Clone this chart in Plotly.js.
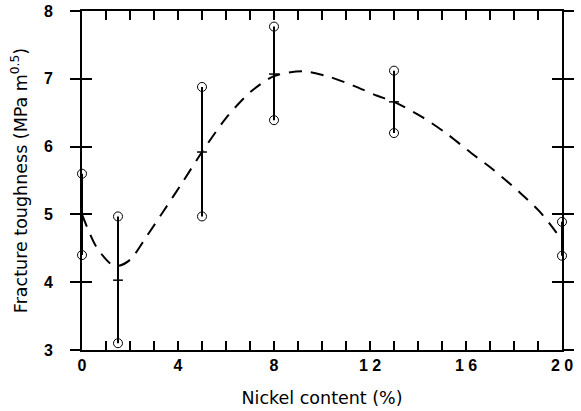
<!DOCTYPE html>
<html><head><meta charset="utf-8">
<script src="https://cdn.plot.ly/plotly-3.0.1.min.js"></script>
<style>html,body{margin:0;padding:0;background:#fff;}#chart{width:581px;height:411px;}</style>
</head><body><div id="chart"></div>
<script>
// Measured data (nickel content %, fracture toughness MPa m^0.5)
var nickel = [0, 1.5, 5, 8, 13, 20];
var toughLow = [4.4, 3.1, 4.97, 6.39, 6.2, 4.39];
var toughHigh = [5.6, 4.97, 6.88, 7.77, 7.12, 4.89];
var toughMean = [5.0, 4.03, 5.92, 7.07, 6.66, 4.64];
// Dashed trend curve
var curveX = [0, 0.6, 1.2, 1.5, 2.0, 2.7, 3.4, 4.2, 5.0, 6.0, 7.0, 8.0, 9.2, 10.3, 11.3, 12.3, 13.0, 14.2, 15.2, 16.2, 17.1, 18.25, 19.1, 20];
var curveY = [5.0, 4.52, 4.27, 4.24, 4.33, 4.68, 5.05, 5.48, 5.92, 6.42, 6.8, 7.04, 7.11, 7.03, 6.9, 6.75, 6.66, 6.43, 6.19, 5.91, 5.67, 5.32, 5.03, 4.62];
var xTicks = [0, 4, 8, 12, 16, 20];
var xTickText = ['0', '4', '8', '1 2', '1 6', '2 0'];
var yTicks = [3, 4, 5, 6, 7, 8];

var barX = [], barY = [];
for (var i = 0; i < nickel.length; i++) {
  barX.push(nickel[i], nickel[i], null);
  barY.push(toughLow[i], toughHigh[i], null);
}
var circX = nickel.concat(nickel);
var circY = toughLow.concat(toughHigh);
var meanX = nickel.slice(1, 5), meanY = toughMean.slice(1, 5);

var traces = [
  {x: curveX, y: curveY, mode: 'lines', line: {color: '#000', width: 2, dash: '13px,9px', shape: 'spline', smoothing: 0.8}, hoverinfo: 'skip', cliponaxis: false},
  {x: barX, y: barY, mode: 'lines', line: {color: '#000', width: 2}, connectgaps: false, cliponaxis: false},
  {x: meanX, y: meanY, mode: 'markers', marker: {symbol: 'line-ew', size: 7, line: {color: '#000', width: 1.5}}, cliponaxis: false},
  {x: circX, y: circY, mode: 'markers', marker: {symbol: 'circle-open', size: 9, color: '#000', line: {color: '#000', width: 1}}, cliponaxis: false}
];

var tickFont = {family: 'Liberation Sans, Arial, sans-serif', size: 16, color: '#000', weight: 'bold'};
var titleFont = {family: 'DejaVu Sans, sans-serif', size: 17.5, color: '#000'};
var layout = {
  width: 581, height: 411,
  margin: {l: 82, r: 19, t: 11, b: 61},
  paper_bgcolor: '#fff', plot_bgcolor: '#fff',
  showlegend: false,
  xaxis: {
    range: [0, 20], tickmode: 'array', tickvals: xTicks, ticktext: xTickText,
    ticks: 'inside', ticklen: 9, tickwidth: 2, tickcolor: '#000',
    minor: {dtick: 1, ticks: 'inside', ticklen: 5, tickwidth: 1.5, tickcolor: '#000'},
    showline: true, linecolor: '#000', linewidth: 2, mirror: 'allticks',
    showgrid: false, zeroline: false, tickfont: tickFont,
    title: {text: 'Nickel content (%)', font: titleFont, standoff: 19}
  },
  yaxis: {
    range: [3, 8], tickmode: 'array', tickvals: yTicks,
    ticks: 'outside', ticklen: 10, tickwidth: 2, tickcolor: '#000',
    ticklabelstandoff: 14,
    showline: true, linecolor: '#000', linewidth: 2, mirror: 'allticks',
    showgrid: false, zeroline: false, tickfont: tickFont,
    title: {text: 'Fracture toughness (MPa m<sup>0.5</sup>)', font: titleFont, standoff: 12}
  },
  yaxis2: {
    range: [3, 8], overlaying: 'y', tickmode: 'array', tickvals: yTicks,
    ticks: 'inside', ticklen: 10, tickwidth: 2, tickcolor: '#000',
    showline: false, mirror: 'allticks', showticklabels: false,
    showgrid: false, zeroline: false
  }
};
traces.push({x: [0], y: [3], yaxis: 'y2', mode: 'markers', marker: {opacity: 0}, hoverinfo: 'skip'});
Plotly.newPlot('chart', traces, layout, {displayModeBar: false, staticPlot: true});
</script>
</body></html>
